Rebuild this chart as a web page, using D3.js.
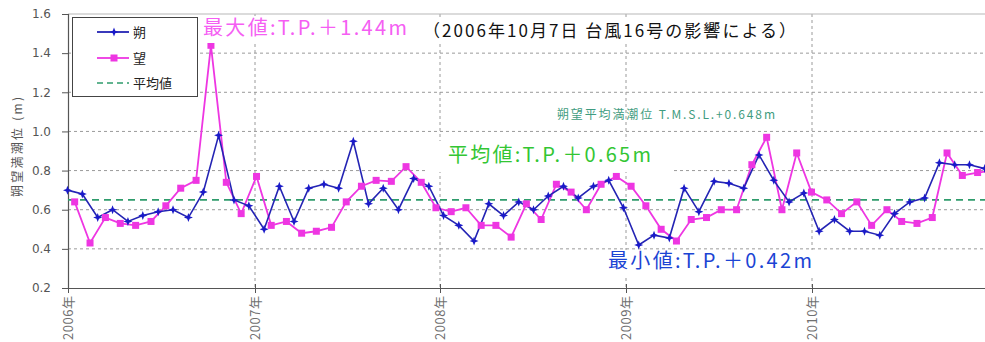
<!DOCTYPE html>
<html>
<head>
<meta charset="utf-8">
<script src="https://cdn.jsdelivr.net/npm/d3@7"></script>
<style>
  html, body { margin: 0; padding: 0; background: #fff; }
  svg { display: block; }
  text { font-family: "Noto Sans CJK JP", "Noto Sans", sans-serif; }
</style>
</head>
<body>
<svg id="chart" width="985" height="342"></svg>
<script>
// Year ticks on the time axis
const yearTicks = [2006, 2007, 2008, 2009, 2010];
// Water level ticks (m)
const levelTicks = [0.2, 0.4, 0.6, 0.8, 1.0, 1.2, 1.4, 1.6];

// 朔 (new moon) spring high water
const sakuDates = [
  "2005-12-31",
  "2006-01-29","2006-02-28","2006-03-29","2006-04-28","2006-05-27","2006-06-26",
  "2006-07-25","2006-08-24","2006-09-22","2006-10-22","2006-11-21","2006-12-20",
  "2007-01-19","2007-02-18","2007-03-19","2007-04-17","2007-05-17","2007-06-15",
  "2007-07-14","2007-08-13","2007-09-11","2007-10-11","2007-11-10","2007-12-10",
  "2008-01-08","2008-02-07","2008-03-08","2008-04-06","2008-05-05","2008-06-04",
  "2008-07-03","2008-08-01","2008-08-31","2008-09-29","2008-10-29","2008-11-28","2008-12-27",
  "2009-01-26","2009-02-25","2009-03-27","2009-04-25","2009-05-24","2009-06-23",
  "2009-07-22","2009-08-20","2009-09-19","2009-10-18","2009-11-17","2009-12-16",
  "2010-01-15","2010-02-14","2010-03-16","2010-04-14","2010-05-14","2010-06-12",
  "2010-07-12","2010-08-10","2010-09-08","2010-10-08","2010-11-06","2010-12-06"
];
const sakuValues = [
  0.70,
  0.68, 0.56, 0.60, 0.54, 0.57, 0.59, 0.60, 0.56, 0.69, 0.98, 0.65, 0.62,
  0.50, 0.72, 0.54, 0.71, 0.73, 0.71, 0.95, 0.63, 0.71, 0.60, 0.76, 0.72,
  0.57, 0.52, 0.44, 0.63, 0.57, 0.64, 0.60, 0.67, 0.72, 0.66, 0.72, 0.75, 0.61,
  0.42, 0.47, 0.455, 0.71, 0.59, 0.745, 0.735, 0.71, 0.88, 0.75, 0.64, 0.685,
  0.49, 0.55, 0.49, 0.49, 0.47, 0.58, 0.64, 0.66, 0.84, 0.83, 0.83, 0.81
];

// 望 (full moon) spring high water
const boDates = [
  "2006-01-14","2006-02-13","2006-03-15","2006-04-13","2006-05-13","2006-06-12",
  "2006-07-11","2006-08-09","2006-09-08","2006-10-07","2006-11-06","2006-12-05",
  "2007-01-04","2007-02-02","2007-03-04","2007-04-03","2007-05-02","2007-06-01",
  "2007-06-30","2007-07-30","2007-08-28","2007-09-27","2007-10-26","2007-11-25","2007-12-24",
  "2008-01-23","2008-02-21","2008-03-22","2008-04-20","2008-05-20","2008-06-19",
  "2008-07-18","2008-08-17","2008-09-15","2008-10-15","2008-11-13","2008-12-13",
  "2009-01-11","2009-02-09","2009-03-11","2009-04-10","2009-05-09","2009-06-08",
  "2009-07-07","2009-08-06","2009-09-05","2009-10-04","2009-11-03","2009-12-02","2009-12-31",
  "2010-01-30","2010-02-28","2010-03-30","2010-04-28","2010-05-28","2010-06-26",
  "2010-07-26","2010-08-25","2010-09-23","2010-10-23","2010-11-22","2010-12-21"
];
const boValues = [
  0.64, 0.43, 0.56, 0.53, 0.52, 0.54, 0.62, 0.71, 0.75, 1.44, 0.74, 0.58,
  0.77, 0.52, 0.54, 0.48, 0.49, 0.51, 0.64, 0.72, 0.75, 0.745, 0.82, 0.74, 0.61,
  0.59, 0.61, 0.52, 0.52, 0.46, 0.63, 0.55, 0.73, 0.69, 0.60, 0.73, 0.77,
  0.72, 0.62, 0.50, 0.44, 0.55, 0.56, 0.60, 0.60, 0.83, 0.97, 0.60, 0.89, 0.69,
  0.65, 0.58, 0.64, 0.52, 0.60, 0.54, 0.53, 0.56, 0.89, 0.775, 0.79, 0.80
];

// Mean spring high water
const meanLevel = 0.65;

const seriesNames = ["朔", "望", "平均値"];

const parse = d3.timeParse("%Y-%m-%d");
const saku = sakuDates.map((d, i) => ({ date: parse(d), value: sakuValues[i] }));
const bo = boDates.map((d, i) => ({ date: parse(d), value: boValues[i] }));

const svg = d3.select("#chart");

const yearDates = [...yearTicks, 2011].map(yr => new Date(yr, 0, 1));
const x = d3.scaleTime()
  .domain(yearDates)
  .range([68, 255, 440, 626, 812, 998]);
const y = d3.scaleLinear().domain([0.2, 1.6]).range([288, 14]);

const plotLeft = 68, plotRight = 985, plotTop = y(1.6), plotBottom = y(0.2);

const colBlue = "#2424b4";
const colPink = "#ee36e2";
const colMean = "#2f9c6c";

// Grid lines
const grid = svg.append("g");
grid.selectAll("line.h")
  .data(levelTicks.filter(v => v > 0.2 && v < 1.6))
  .join("line")
  .attr("x1", plotLeft).attr("x2", plotRight)
  .attr("y1", d => y(d)).attr("y2", d => y(d))
  .attr("stroke", "#9a9a9a").attr("stroke-width", 1)
  .attr("stroke-dasharray", "3,3");
grid.selectAll("line.v")
  .data(yearTicks.slice(1))
  .join("line")
  .attr("x1", d => x(new Date(d, 0, 1))).attr("x2", d => x(new Date(d, 0, 1)))
  .attr("y1", plotTop).attr("y2", plotBottom)
  .attr("stroke", "#9a9a9a").attr("stroke-width", 1)
  .attr("stroke-dasharray", "3,3");

// Frame top
svg.append("line")
  .attr("x1", plotLeft).attr("x2", plotRight).attr("y1", plotTop).attr("y2", plotTop)
  .attr("stroke", "#b8b8b8").attr("stroke-width", 1.2);

// Y axis
const yAxis = d3.axisLeft(y).tickValues(levelTicks).tickFormat(d3.format(".1f")).tickSize(6).tickPadding(11);
const gy = svg.append("g").attr("transform", `translate(${plotLeft},0)`).call(yAxis);
gy.select(".domain").attr("stroke", "#555").attr("stroke-width", 1.2);
gy.selectAll(".tick line").attr("stroke", "#555");
gy.selectAll(".tick text").attr("fill", "#555").attr("font-size", 12)
  .style("font-family", "'DejaVu Sans', sans-serif");

// X axis
const xAxis = d3.axisBottom(x).tickValues(yearTicks.map(v => new Date(v, 0, 1)))
  .tickFormat(d => d.getFullYear() + "年").tickSize(5).tickSizeOuter(0);
const gx = svg.append("g").attr("transform", `translate(0,${plotBottom})`).call(xAxis);
gx.select(".domain").attr("stroke", "#555").attr("stroke-width", 1.2);
gx.selectAll(".tick line").attr("stroke", "#555").attr("y1", -4);
gx.selectAll(".tick text")
  .attr("fill", "#707070").attr("font-size", 13)
  .attr("transform", "rotate(-90)")
  .attr("text-anchor", "end")
  .attr("x", -8).attr("y", 0).attr("dy", "0.35em")
  .attr("textLength", 44).attr("lengthAdjust", "spacing");

// Y axis title
svg.append("text")
  .attr("transform", "translate(18,147) rotate(-90)")
  .attr("text-anchor", "middle").attr("dy", "0.35em")
  .attr("fill", "#555").attr("font-size", 12)
  .attr("textLength", 100).attr("lengthAdjust", "spacing")
  .text("朔望満潮位 (m)");

// Mean line
svg.append("line")
  .attr("x1", plotLeft).attr("x2", plotRight)
  .attr("y1", y(meanLevel)).attr("y2", y(meanLevel))
  .attr("stroke", colMean).attr("stroke-width", 1.8).attr("stroke-dasharray", "7,5");

// Mean label (small)
svg.append("text")
  .attr("x", 557).attr("y", 115).attr("dy", "0.35em")
  .attr("fill", "#3f9c80").attr("font-size", 12)
  .attr("textLength", 218).attr("lengthAdjust", "spacing")
  .text("朔望平均満潮位 T.M.S.L.+0.648m");

// Series
const line = d3.line().x(d => x(d.date)).y(d => y(d.value));
const starPath = r => `M0,${-r}L${r*0.28},${-r*0.28}L${r},0L${r*0.28},${r*0.28}L0,${r}L${-r*0.28},${r*0.28}L${-r},0L${-r*0.28},${-r*0.28}Z`;

svg.append("path").datum(bo).attr("d", line)
  .attr("fill", "none").attr("stroke", colPink).attr("stroke-width", 1.8);
svg.append("path").datum(saku).attr("d", line)
  .attr("fill", "none").attr("stroke", colBlue).attr("stroke-width", 1.6);

svg.append("g").selectAll("rect").data(bo).join("rect")
  .attr("x", d => x(d.date) - 3.5).attr("y", d => y(d.value) - 3.5)
  .attr("width", 7).attr("height", 7).attr("fill", colPink);
svg.append("g").selectAll("path").data(saku).join("path")
  .attr("transform", d => `translate(${x(d.date)},${y(d.value)})`)
  .attr("d", starPath(4.5)).attr("fill", "#1a1ac8");

// Annotations with white backing
function note(txt, xs, xe, cy, size, color) {
  const g = svg.append("g");
  const bg = g.append("rect").attr("fill", "#fff");
  const t = g.append("text")
    .attr("x", xs).attr("y", cy).attr("dy", "0.36em")
    .attr("fill", color).attr("font-size", size)
    .attr("textLength", xe - xs).attr("lengthAdjust", "spacing")
    .text(txt);
  return { g, bg, t };
}
function backing(n, x0, y0, x1, y1) {
  n.bg.attr("x", x0).attr("y", y0).attr("width", x1 - x0).attr("height", y1 - y0);
}

const nMax = note("最大値:T.P.＋1.44m", 203, 407, 28, 20, "#f55ef3");
backing(nMax, 200, 16, 414, 43);
const nCause = note("（2006年10月7日 台風16号の影響による）", 423, 796, 31, 17, "#111");
backing(nCause, 418, 18, 800, 44);
const nMean = note("平均値:T.P.＋0.65m", 448, 651, 155, 20, "#33c633");
backing(nMean, 427, 141, 673, 172);
const nMin = note("最小値:T.P.＋0.42m", 608, 812, 261, 20, "#1b44d4");
backing(nMin, 600, 250, 816, 275);

// Legend
const lg = svg.append("g");
lg.append("rect").attr("x", 72.5).attr("y", 17.5).attr("width", 125).attr("height", 79)
  .attr("fill", "#fff").attr("stroke", "#444").attr("stroke-width", 1);
const legendRows = [
  { name: seriesNames[0], color: colBlue, y: 32, kind: "star" },
  { name: seriesNames[1], color: colPink, y: 58, kind: "square" },
  { name: seriesNames[2], color: colMean, y: 83, kind: "dash" }
];
legendRows.forEach(r => {
  lg.append("line").attr("x1", 97).attr("x2", 129).attr("y1", r.y).attr("y2", r.y)
    .attr("stroke", r.color).attr("stroke-width", r.kind === "dash" ? 1.6 : 1.8)
    .attr("stroke-dasharray", r.kind === "dash" ? "6,4" : null);
  if (r.kind === "star") {
    lg.append("path").attr("transform", `translate(114,${r.y})`).attr("d", starPath(4.5)).attr("fill", "#1a1ac8");
  } else if (r.kind === "square") {
    lg.append("rect").attr("x", 110.5).attr("y", r.y - 3.5).attr("width", 7).attr("height", 7).attr("fill", r.color);
  }
  lg.append("text").attr("x", 133).attr("y", r.y).attr("dy", "0.36em")
    .attr("font-size", 13).attr("fill", "#222").text(r.name);
});
</script>
</body>
</html>
